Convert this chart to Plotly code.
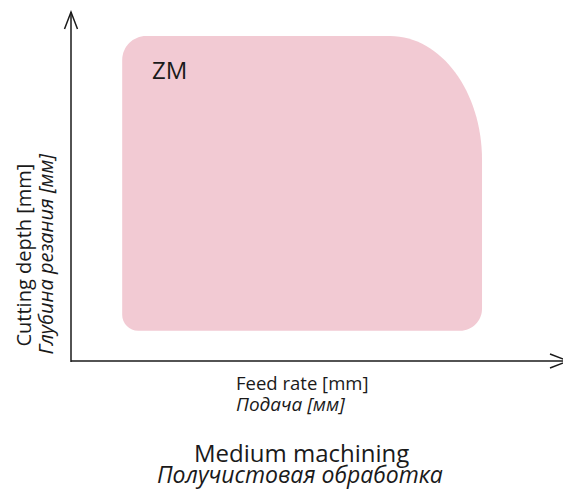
import plotly.graph_objects as go

# ---- data (arbitrary units: axes run 0..10) ----
feed_rate = [1.03, 6.42, 8.27]       # left edge, start of taper, right edge
cutting_depth = [0.87, 5.76, 9.31]   # bottom edge, end of taper, top edge
region_label = "ZM"
region_label_pos = [1.99, 8.34]

x_title = ["Feed rate [mm]", "Подача [мм]"]
y_title = ["Cutting depth [mm]", "Глубина резания [мм]"]
chart_title = ["Medium machining", "Получистовая обработка"]

# the page body has an 8px default margin, so the figure is made 8px smaller
W, H = 563, 483
ML, MR, MT, MB = 63, 3, 4, 130
PW, PH = W - ML - MR, H - MT - MB
XR, YR = [0, 10], [0, 10]
sx = PW / (XR[1] - XR[0])
sy = PH / (YR[1] - YR[0])

# plot-area origin in page pixels
OX, OY = ML + 8, MT + 8 + PH
def px(x): return (x - OX) / PW
def py(y): return (OY - y) / PH

FILL = "#f2cad3"
INK = "#1a1a1a"
FONT = "Open Sans"

x0, xk, x2 = feed_rate
y0, yk, y2 = cutting_depth
k = 0.5523
def rx(p): return p / sx
def ry(p): return p / sy
rtl, rbl, rbr = 24, 16, 22

path = (
    f"M {x0+rx(rtl)},{y2} L {xk},{y2} "
    f"C {xk + k*(x2-xk)},{y2} {x2},{yk + k*(y2-yk)} {x2},{yk} "
    f"L {x2},{y0+ry(rbr)} "
    f"C {x2},{y0+ry(rbr)*(1-k)} {x2-rx(rbr)*(1-k)},{y0} {x2-rx(rbr)},{y0} "
    f"L {x0+rx(rbl)},{y0} "
    f"C {x0+rx(rbl)*(1-k)},{y0} {x0},{y0+ry(rbl)*(1-k)} {x0},{y0+ry(rbl)} "
    f"L {x0},{y2-ry(rtl)} "
    f"C {x0},{y2-ry(rtl)*(1-k)} {x0+rx(rtl)*(1-k)},{y2} {x0+rx(rtl)},{y2} Z"
)

fig = go.Figure()
fig.add_trace(go.Scatter(x=[XR[0], XR[1]], y=[YR[0], YR[1]], mode="markers",
                         marker=dict(opacity=0), hoverinfo="skip", showlegend=False))

shapes = [
    dict(type="path", path=path, xref="x", yref="y", fillcolor=FILL,
         line=dict(width=0), layer="below"),
    dict(type="line", xref="paper", yref="paper", x0=0, y0=-1/PH, x1=0, y1=1,
         line=dict(color=INK, width=1.5)),
    dict(type="line", xref="paper", yref="paper", x0=0, y0=0, x1=1, y1=0,
         line=dict(color=INK, width=1.5)),
    dict(type="path", xref="paper", yref="paper",
         path=f"M {-6.5/PW},{1-17/PH} L 0,1 L {6.5/PW},{1-17/PH}",
         line=dict(color=INK, width=1.5)),
    dict(type="path", xref="paper", yref="paper",
         path=f"M {1-18/PW},{7/PH} L 1,0 L {1-18/PW},{-7/PH}",
         line=dict(color=INK, width=1.5)),
]

def ann(text, x, y, size, xanchor="center", angle=0, italic=False):
    return dict(x=x, y=y, xref="paper", yref="paper",
                text=f"<i>{text}</i>" if italic else text, showarrow=False,
                xanchor=xanchor, yanchor="middle", textangle=angle, borderpad=0,
                font=dict(size=size, color=INK, family=FONT))

annotations = [
    dict(x=region_label_pos[0], y=region_label_pos[1], xref="x", yref="y",
         text=region_label, showarrow=False, font=dict(size=24, color=INK, family=FONT),
         xanchor="center", yanchor="middle"),
    ann(x_title[0], px(235), py(382), 18.5, xanchor="left"),
    ann(x_title[1], px(235), py(404), 19, xanchor="left", italic=True),
    ann(y_title[0], px(23.5), py(255), 20, angle=-90),
    ann(y_title[1], px(45.5), py(254), 20, angle=-90, italic=True),
    ann(chart_title[0], px(301.5), py(452), 24),
    ann(chart_title[1], px(300), py(474), 23, italic=True),
]

fig.update_layout(
    width=W, height=H,
    margin=dict(l=ML, r=MR, t=MT, b=MB),
    paper_bgcolor="white", plot_bgcolor="white",
    xaxis=dict(range=XR, visible=False, fixedrange=True),
    yaxis=dict(range=YR, visible=False, fixedrange=True),
    shapes=shapes, annotations=annotations, showlegend=False,
)

fig.write_html("out.html", config={"displayModeBar": False})
